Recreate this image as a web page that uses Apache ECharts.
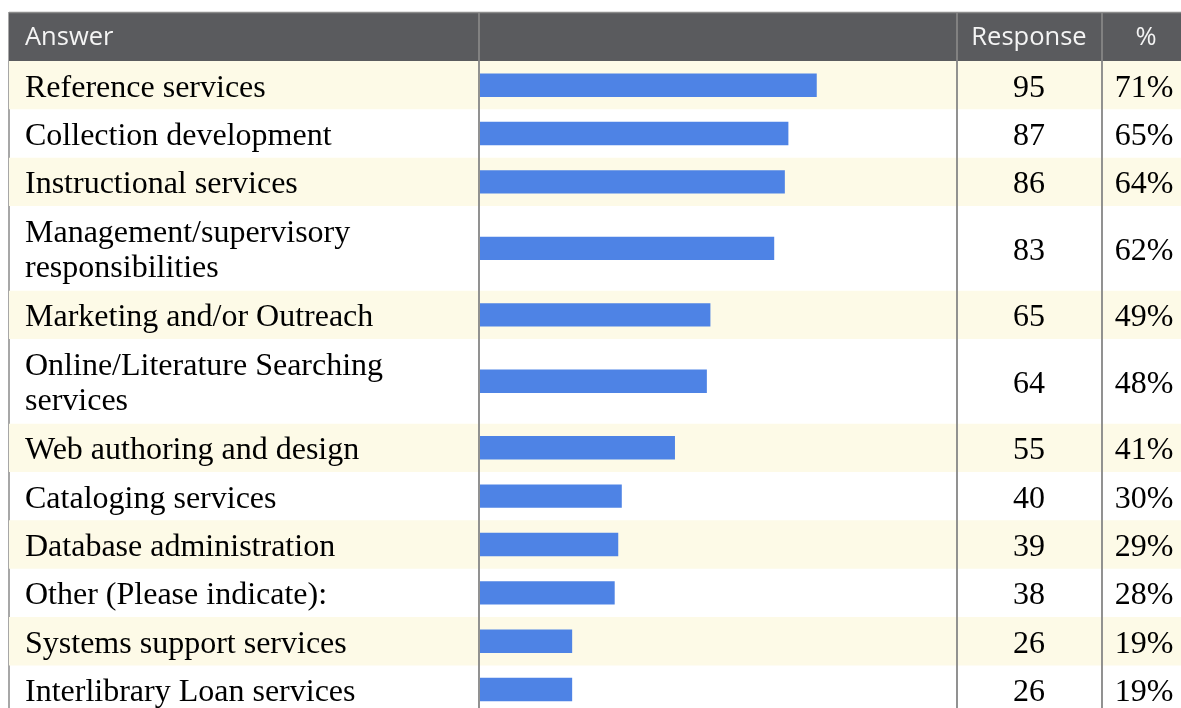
<!DOCTYPE html>
<html>
<head>
<meta charset="utf-8">
<script src="https://cdn.jsdelivr.net/npm/echarts@6/dist/echarts.min.js"></script>
<style>
html,body{margin:0;padding:0;background:#fff;}
#chart{width:1181px;height:708px;}
</style>
</head>
<body>
<div id="chart"></div>
<script>
// ---- data ----
const categories = [
  'Reference services',
  'Collection development',
  'Instructional services',
  'Management/supervisory\nresponsibilities',
  'Marketing and/or Outreach',
  'Online/Literature Searching\nservices',
  'Web authoring and design',
  'Cataloging services',
  'Database administration',
  'Other (Please indicate):',
  'Systems support services',
  'Interlibrary Loan services'
];
const responses = [95, 87, 86, 83, 65, 64, 55, 40, 39, 38, 26, 26];
const percents = ['71%', '65%', '64%', '62%', '49%', '48%', '41%', '30%', '29%', '28%', '19%', '19%'];
const headers = ['Answer', 'Response', '%'];
const totalRespondents = 134;

// ---- layout (derived from label line counts) ----
const W = 1181, H = 708;
const unitPx = 48.35;
const doubleRowUnits = 1.75;
const rowSpans = [];
let acc = 0;
categories.forEach(c => {
  const lines = c.split('\n').length;
  const u = lines > 1 ? doubleRowUnits : 1;
  rowSpans.push([acc, acc + u]);
  acc += u;
});
const tableTop = 61;
const visibleUnits = (H - tableTop) / unitPx;
const barLeft = 480;
const barWidth = 475;
const colSep1 = 479, colSep2 = 957, colSep3 = 1102;
const respCenter = 1029, pctCenter = 1144;
const leftEdge = 9;
const textShift = 3;

const seriesData = responses.map((v, i) => [v, rowSpans[i][0], rowSpans[i][1]]);

const chart = echarts.init(document.getElementById('chart'), null, {renderer: 'canvas'});

const serifFont = '32px "Liberation Serif", "Times New Roman", serif';
const sansFont = '25.5px "Open Sans", "Noto Sans", sans-serif';

const option = {
  animation: false,
  backgroundColor: '#ffffff',
  grid: {left: barLeft, top: tableTop, width: barWidth, bottom: 0, containLabel: false},
  xAxis: {type: 'value', min: 0, max: totalRespondents, show: false},
  yAxis: {type: 'value', min: 0, max: visibleUnits, inverse: true, show: false},
  graphic: [
    {type: 'line', z: 0, shape: {x1: leftEdge, y1: 12, x2: leftEdge, y2: H}, style: {stroke: '#8a8a8a', lineWidth: 1.5}},
    {type: 'rect', z: 1, shape: {x: leftEdge, y: 13, width: W - leftEdge, height: tableTop - 13}, style: {fill: '#5a5b5e'}},
    {type: 'line', z: 1, shape: {x1: leftEdge, y1: 12.5, x2: W, y2: 12.5}, style: {stroke: '#8c8c8c', lineWidth: 1.5}},
    {type: 'text', z: 5, style: {text: headers[0], x: 25, y: 38, verticalAlign: 'middle', font: sansFont, fill: '#f4f4f4'}},
    {type: 'text', z: 5, style: {text: headers[1], x: respCenter, y: 38, align: 'center', verticalAlign: 'middle', font: sansFont, fill: '#f4f4f4'}},
    {type: 'text', z: 5, style: {text: headers[2], x: 1146, y: 38, align: 'center', verticalAlign: 'middle', font: sansFont, fill: '#f4f4f4'}},
    {type: 'line', z: 100, shape: {x1: colSep1, y1: 13, x2: colSep1, y2: H}, style: {stroke: '#868686', lineWidth: 1.8}},
    {type: 'line', z: 100, shape: {x1: colSep2, y1: 13, x2: colSep2, y2: H}, style: {stroke: '#868686', lineWidth: 1.8}},
    {type: 'line', z: 100, shape: {x1: colSep3, y1: 13, x2: colSep3, y2: H}, style: {stroke: '#868686', lineWidth: 1.8}}
  ],
  series: [{
    type: 'custom',
    z: 2,
    clip: false,
    data: seriesData,
    renderItem: function (params, api) {
      const i = params.dataIndex;
      const v = api.value(0), y0 = api.value(1), y1 = api.value(2);
      const pTop = api.coord([0, y0]);
      const pBot = api.coord([0, y1]);
      const top = pTop[1], bot = pBot[1];
      const mid = (top + bot) / 2;
      const pEnd = api.coord([v, (y0 + y1) / 2]);
      const barH = 23.4;
      const children = [];
      if (i % 2 === 0) {
        children.push({type: 'rect', shape: {x: leftEdge, y: top, width: W - leftEdge, height: bot - top}, style: {fill: '#fdfae7'}});
      }
      children.push({type: 'rect', shape: {x: pTop[0], y: mid - barH / 2, width: pEnd[0] - pTop[0], height: barH}, style: {fill: '#4e83e5'}});
      children.push({type: 'text', style: {text: categories[i], x: 25, y: mid + textShift, verticalAlign: 'middle', font: serifFont, lineHeight: 35, fill: '#000'}});
      children.push({type: 'text', style: {text: String(responses[i]), x: respCenter, y: mid + textShift, align: 'center', verticalAlign: 'middle', font: serifFont, fill: '#000'}});
      children.push({type: 'text', style: {text: percents[i], x: pctCenter, y: mid + textShift, align: 'center', verticalAlign: 'middle', font: serifFont, fill: '#000'}});
      return {type: 'group', children: children};
    }
  }]
};
chart.setOption(option);
</script>
</body>
</html>
